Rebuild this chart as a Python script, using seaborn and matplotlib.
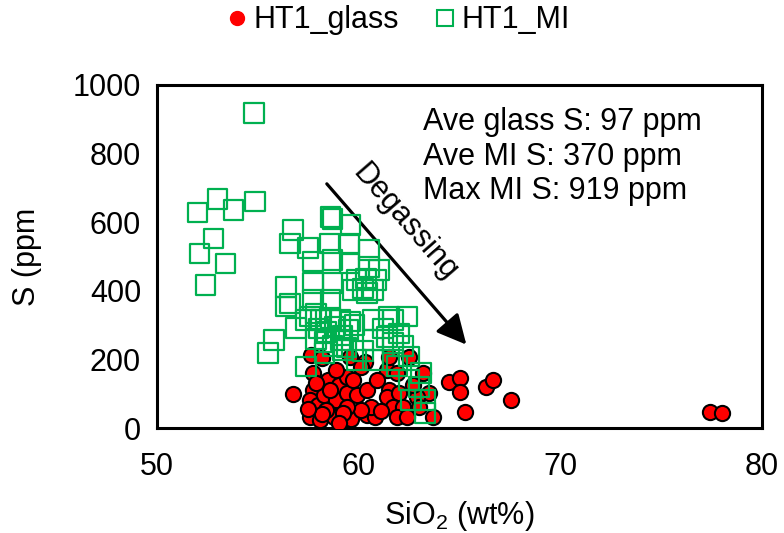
import numpy as np
import pandas as pd
import seaborn as sns
import matplotlib
matplotlib.use("Agg")
from matplotlib import pyplot as plt
from matplotlib.lines import Line2D
from matplotlib.ticker import MultipleLocator

# 玻璃包裹体 / 熔体包裹体数据 (SiO2 wt%, S ppm)
glass_sio2 = [56.75, 57.65, 58.2, 57.75, 58.5, 59.0, 59.4, 58.9, 57.75, 57.6,
              58.0, 58.3, 58.9, 59.4, 59.9, 60.4, 57.6, 58.1, 58.8, 59.6,
              58.4, 60.4, 60.8, 60.6, 60.1, 59.4, 59.55, 60.3, 60.1, 61.4,
              61.5, 62.5, 61.9, 61.5, 61.4, 62.0, 61.7, 62.2, 61.9, 62.4,
              63.2, 63.5, 62.9, 63.7, 63.0, 64.5, 65.0, 65.0, 65.25, 66.3,
              66.65, 67.55, 77.4, 78.0, 58.6, 59.2, 57.9, 58.2, 59.7, 60.9,
              57.5, 59.0, 62.7, 61.1]
glass_s = [99, 213, 203, 159, 140, 125, 150, 169, 111, 82,
           67, 96, 82, 101, 96, 111, 33, 23, 33, 25,
           53, 38, 33, 62, 53, 62, 208, 193, 179, 169,
           208, 208, 159, 111, 91, 101, 62, 62, 33, 33,
           159, 101, 91, 33, 62, 135, 145, 106, 47, 120,
           140, 82, 47, 43, 110, 45, 130, 40, 140, 140,
           55, 15, 125, 50]

mi_sio2 = [54.8, 52.0, 53.0, 53.8, 54.85, 52.8, 52.1, 53.4, 52.4, 55.5,
           55.8, 56.75, 56.6, 57.5, 58.6, 58.7, 59.6, 59.55, 58.55, 60.5,
           57.75, 58.7, 59.55, 60.5, 61.0, 59.9, 60.35, 60.85, 59.7, 60.2,
           60.7, 60.4, 56.4, 57.75, 58.7, 57.75, 58.6, 56.6, 56.4, 57.6,
           58.1, 58.6, 59.1, 59.6, 61.5, 62.4, 56.9, 57.4, 57.9, 58.0,
           58.4, 58.8, 59.2, 59.5, 59.8, 58.3, 58.7, 59.1, 59.4, 57.9,
           60.7, 61.7, 61.4, 61.7, 62.0, 60.7, 61.2, 62.2, 57.4, 58.3,
           59.2, 59.9, 60.7, 61.7, 62.5, 62.5, 63.0, 63.3, 63.3, 62.6,
           61.9, 60.2, 63.1]
mi_s = [919, 628, 667, 636, 660, 553, 509, 480, 417, 218,
        256, 577, 538, 524, 616, 610, 592, 538, 538, 519,
        485, 490, 480, 470, 461, 431, 436, 431, 402, 407,
        402, 393, 412, 422, 422, 373, 373, 363, 354, 325,
        315, 320, 315, 310, 325, 325, 291, 315, 334, 290,
        280, 295, 270, 285, 300, 250, 240, 255, 235, 260,
        315, 315, 266, 247, 276, 256, 290, 240, 179, 218,
        228, 198, 198, 198, 208, 140, 120, 82, 43, 82,
        180, 225, 160]

labels = ["HT1_glass", "HT1_MI"]
stats_text = "Ave glass S: 97 ppm\nAve MI S: 370 ppm\nMax MI S: 919 ppm"

red = "#FF0000"
green = "#00B050"

sns.set_style("white")
plt.rcParams["font.family"] = ["Liberation Sans", "DejaVu Sans"]
plt.rcParams["mathtext.fontset"] = "custom"
plt.rcParams["mathtext.rm"] = "Liberation Sans"
for k in ["text.color", "axes.labelcolor", "xtick.color", "ytick.color"]:
    plt.rcParams[k] = "black"

df_glass = pd.DataFrame({"SiO2": glass_sio2, "S": glass_s})
df_mi = pd.DataFrame({"SiO2": mi_sio2, "S": mi_s})

fig = plt.figure(figsize=(7.84, 5.33), dpi=100)
ax = fig.add_axes([157 / 784, 1 - 428 / 533, 605 / 784, 343 / 533])

sns.scatterplot(data=df_glass, x="SiO2", y="S", ax=ax, marker="o", s=120,
                color=red, edgecolor="black", linewidth=1.5, zorder=3)
sns.scatterplot(data=df_mi, x="SiO2", y="S", ax=ax, marker="s", s=200,
                color=green, facecolor="none", edgecolor=green,
                linewidth=1.6, zorder=4)

ax.set_xlim(50, 80)
ax.set_ylim(0, 1000)
ax.xaxis.set_major_locator(MultipleLocator(10))
ax.xaxis.set_minor_locator(MultipleLocator(2))
ax.yaxis.set_major_locator(MultipleLocator(200))
ax.yaxis.set_minor_locator(MultipleLocator(100))
ax.tick_params(which="major", direction="inout", length=15, width=2,
               labelsize=22, pad=4)
ax.tick_params(which="minor", direction="out", length=6, width=2)
ax.tick_params(axis="x", which="major", pad=10)
for sp in ax.spines.values():
    sp.set_linewidth(2.2)
    sp.set_color("black")

ax.set_xlabel("SiO$_2$ (wt%)", fontsize=22, labelpad=12)
ax.set_ylabel("S (ppm", fontsize=22, labelpad=22)

# 脱气箭头
ax.annotate("", xy=(65.43, 237), xytext=(58.33, 718),
            arrowprops=dict(arrowstyle="-|>,head_length=0.9,head_width=0.45",
                            color="black", lw=2.3, mutation_scale=20))
ax.text(0.41, 0.60, "Degassing", transform=ax.transAxes, rotation=-49,
        ha="center", va="center", fontsize=22, rotation_mode="anchor")
ax.text(0.44, 0.935, stats_text, transform=ax.transAxes, ha="left",
        va="top", fontsize=22, linespacing=1.2)

handles = [Line2D([], [], marker="o", ls="", color=red, markersize=10),
           Line2D([], [], marker="s", ls="", markerfacecolor="none",
                  markeredgecolor=green, markersize=11, markeredgewidth=1.5)]
fig.legend(handles, labels, loc="center", bbox_to_anchor=(0.505, 0.962),
           ncol=2, frameon=False, fontsize=22, handletextpad=0.05,
           columnspacing=1.0, handlelength=1.0)

fig.savefig("out.png", dpi=100)
